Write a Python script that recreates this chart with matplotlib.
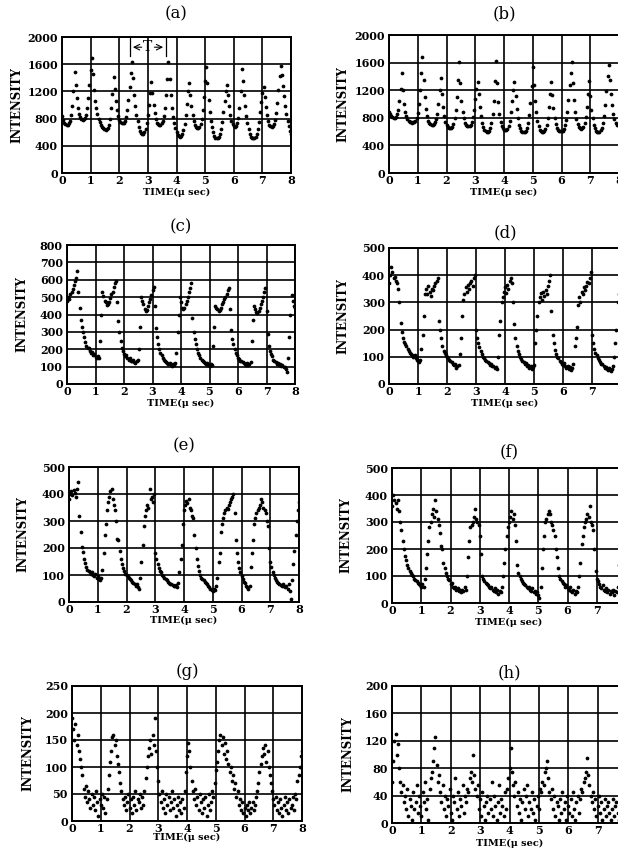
import numpy as np
import matplotlib
matplotlib.use("Agg")
import matplotlib.pyplot as plt

# digitizer time base (µs), one sample every 0.04 µs
time_us = np.linspace(0.0, 8.0, 201)
x_ticks = [0, 1, 2, 3, 4, 5, 6, 7, 8]

intensity_a = [
    840, 780, 740, 715, 705, 710, 730, 770, 850, 980, 1200, 1480, 1300, 1100, 960, 870, 820, 795, 785, 790, 810, 860, 950, 1100, 1300,
    1520, 1690, 1450, 1220, 1060, 950, 870, 800, 750, 710, 680, 655, 640, 632, 640, 665, 710, 800, 950, 1160, 1410, 1230, 1060, 930, 840,
    780, 745, 730, 728, 740, 770, 830, 930, 1080, 1260, 1470, 1630, 1400, 1150, 980, 860, 760, 680, 620, 585, 570, 575, 600, 650, 730,
    850, 1000, 1180, 1340, 1170, 1000, 880, 790, 740, 715, 705, 710, 730, 770, 840, 960, 1140, 1380, 1630, 1380, 1140, 960, 830, 730, 660,
    605, 565, 540, 535, 545, 575, 630, 720, 850, 1020, 1200, 1320, 1150, 980, 850, 760, 700, 670, 657, 660, 680, 720, 800, 930, 1120,
    1350, 1560, 1320, 1080, 900, 770, 670, 600, 550, 520, 510, 512, 530, 570, 640, 750, 900, 1060, 1200, 1300, 1150, 990, 860, 770, 715,
    688, 680, 690, 730, 810, 960, 1200, 1530, 1350, 1150, 980, 840, 730, 640, 575, 535, 515, 508, 512, 530, 570, 640, 750, 890, 1040,
    1170, 1260, 1120, 970, 850, 760, 705, 685, 680, 690, 720, 780, 880, 1030, 1220, 1430, 1580, 1440, 1280, 1130, 990, 870, 770, 690, 620,
    570]

intensity_b = [
    880, 850, 830, 810, 800, 800, 815, 850, 920, 1050, 1220, 1450, 1200, 1000, 880, 820, 780, 760, 745, 735, 730, 732, 740, 760, 800,
    870, 1000, 1200, 1450, 1680, 1350, 1100, 930, 820, 760, 725, 705, 700, 700, 710, 735, 780, 860, 1000, 1200, 1370, 1150, 950, 820, 740,
    690, 665, 655, 650, 655, 670, 710, 790, 920, 1100, 1350, 1610, 1300, 1050, 890, 790, 730, 695, 680, 675, 680, 700, 740, 810, 920,
    1070, 1220, 1320, 1150, 960, 820, 720, 660, 625, 605, 598, 600, 615, 650, 720, 850, 1050, 1330, 1630, 1300, 1030, 850, 740, 680, 645,
    628, 622, 625, 640, 680, 760, 880, 1040, 1200, 1320, 1120, 930, 790, 700, 645, 615, 600, 597, 600, 615, 650, 720, 840, 1020, 1260,
    1540, 1280, 1050, 880, 760, 680, 630, 605, 598, 600, 612, 640, 700, 800, 960, 1150, 1320, 1130, 940, 800, 710, 655, 625, 610, 605,
    608, 615, 640, 690, 770, 890, 1060, 1270, 1450, 1610, 1300, 1060, 890, 780, 710, 665, 645, 640, 645, 670, 720, 810, 950, 1140, 1340,
    1120, 920, 790, 700, 645, 615, 600, 595, 600, 618, 655, 720, 830, 990, 1190, 1400, 1560, 1350, 1150, 980, 860, 780, 730, 700, 690,
    700]

intensity_c = [
    480, 500, 490, 520, 530, 545, 570, 590, 610, 650, 530, 440, 370, 330, 300, 270, 240, 220, 205, 210, 190, 180, 185, 165, 170,
    158, 150, 160, 150, 245, 400, 530, 505, 480, 470, 455, 460, 470, 495, 520, 530, 560, 580, 590, 470, 360, 300, 245, 210, 190,
    175, 160, 165, 150, 140, 150, 135, 130, 140, 125, 120, 130, 140, 200, 330, 500, 480, 460, 430, 420, 425, 450, 470, 490, 510,
    540, 560, 450, 320, 270, 230, 200, 180, 165, 150, 140, 135, 125, 120, 115, 120, 110, 105, 115, 110, 120, 180, 300, 400, 500,
    470, 440, 430, 440, 460, 480, 500, 530, 550, 580, 380, 300, 260, 230, 200, 180, 165, 150, 140, 135, 125, 120, 115, 120, 110,
    105, 115, 110, 220, 330, 450, 440, 430, 420, 425, 440, 460, 470, 490, 500, 520, 540, 550, 430, 310, 260, 230, 200, 180, 165,
    150, 145, 135, 130, 125, 120, 115, 110, 120, 110, 115, 125, 250, 370, 450, 430, 415, 410, 420, 440, 460, 480, 500, 530, 555,
    420, 290, 220, 190, 170, 160, 140, 130, 125, 115, 120, 110, 115, 105, 110, 100, 95, 85, 70, 150, 270, 400, 510, 480, 450,
    440]

intensity_d = [
    370, 400, 430, 410, 390, 395, 380, 370, 350, 300, 225, 190, 170, 155, 148, 140, 130, 122, 115, 112, 108, 100, 105, 95, 90,
    85, 80, 90, 130, 180, 250, 330, 350, 330, 360, 340, 325, 350, 345, 360, 370, 380, 390, 230, 200, 170, 140, 120, 115, 105,
    100, 95, 90, 85, 80, 75, 70, 75, 60, 65, 70, 110, 170, 250, 310, 330, 355, 340, 365, 350, 370, 380, 360, 390, 400,
    200, 170, 150, 135, 120, 110, 100, 95, 90, 85, 80, 78, 70, 72, 65, 68, 60, 62, 55, 100, 180, 230, 300, 320, 340,
    355, 335, 365, 350, 380, 390, 370, 300, 220, 170, 140, 120, 110, 100, 92, 85, 80, 75, 78, 65, 70, 60, 65, 55, 62,
    70, 150, 200, 250, 300, 320, 335, 310, 340, 325, 345, 330, 360, 380, 400, 270, 180, 150, 125, 110, 100, 95, 85, 80, 75,
    70, 78, 65, 60, 68, 55, 62, 50, 60, 75, 140, 170, 210, 290, 320, 300, 340, 330, 355, 345, 360, 375, 370, 390, 410,
    180, 150, 130, 115, 105, 95, 90, 82, 75, 72, 65, 60, 62, 55, 50, 58, 48, 55, 65, 100, 150, 200, 300, 330, 350,
    340]

intensity_e = [
    380, 400, 410, 395, 415, 405, 390, 420, 445, 320, 260, 205, 185, 160, 145, 130, 120, 115, 110, 105, 110, 100, 95, 105, 90,
    95, 85, 80, 90, 120, 180, 250, 290, 340, 370, 390, 410, 420, 380, 360, 340, 300, 235, 230, 190, 160, 140, 125, 115, 105,
    100, 95, 90, 85, 80, 75, 70, 68, 60, 65, 55, 50, 90, 150, 210, 280, 320, 340, 360, 350, 420, 380, 390, 370, 400,
    180, 160, 140, 125, 115, 110, 100, 95, 90, 85, 80, 75, 72, 68, 65, 62, 60, 58, 62, 55, 70, 110, 160, 210, 290,
    340, 360, 375, 365, 380, 350, 340, 320, 310, 250, 200, 160, 135, 115, 100, 90, 85, 80, 75, 70, 65, 60, 55, 50, 45,
    40, 50, 45, 60, 90, 150, 180, 260, 290, 310, 330, 340, 350, 345, 360, 370, 380, 390, 400, 330, 230, 180, 150, 125, 110,
    95, 85, 75, 70, 60, 55, 50, 60, 130, 180, 230, 290, 310, 330, 340, 350, 360, 380, 370, 350, 340, 330, 300, 280, 200,
    150, 130, 110, 100, 90, 80, 75, 70, 65, 62, 60, 65, 58, 55, 60, 50, 65, 40, 10, 80, 140, 190, 250, 300, 340,
    370]

intensity_f = [
    360, 400, 380, 370, 350, 380, 340, 300, 270, 230, 200, 175, 160, 140, 130, 120, 110, 105, 100, 90, 85, 80, 75, 70, 65,
    60, 70, 60, 90, 130, 180, 230, 280, 300, 330, 350, 320, 380, 340, 310, 290, 260, 210, 200, 150, 130, 110, 100, 90, 85,
    70, 75, 60, 55, 60, 50, 55, 45, 50, 40, 50, 45, 60, 50, 100, 170, 230, 280, 290, 300, 320, 350, 310, 300, 290,
    250, 180, 100, 90, 80, 75, 70, 65, 60, 55, 60, 50, 45, 55, 40, 50, 35, 45, 40, 60, 100, 150, 200, 250, 280,
    300, 320, 340, 310, 330, 290, 230, 140, 110, 100, 90, 80, 75, 70, 65, 60, 55, 60, 50, 45, 55, 40, 45, 35, 40,
    30, 20, 60, 130, 200, 250, 300, 310, 330, 340, 330, 300, 290, 270, 250, 200, 170, 130, 100, 90, 80, 75, 70, 60, 65,
    55, 50, 60, 45, 40, 50, 35, 45, 40, 60, 100, 150, 220, 250, 280, 300, 310, 330, 320, 360, 300, 290, 270, 200, 120,
    90, 80, 70, 60, 55, 65, 50, 45, 55, 40, 50, 35, 45, 40, 50, 30, 45, 40, 60, 140, 200, 260, 310, 340, 350,
    360]

intensity_g = [
    190, 170, 150, 180, 140, 160, 130, 115, 100, 85, 60, 45, 65, 35, 55, 40, 25, 50, 30, 45, 20, 55, 35, 10, 40,
    30, 50, 25, 45, 15, 40, 60, 85, 110, 130, 155, 160, 140, 150, 120, 105, 90, 70, 55, 40, 30, 45, 20, 35, 50,
    25, 40, 15, 45, 30, 55, 20, 40, 35, 50, 25, 45, 30, 55, 80, 100, 120, 135, 150, 125, 160, 140, 190, 130, 100,
    75, 50, 35, 55, 25, 40, 15, 50, 30, 45, 20, 35, 55, 25, 40, 10, 30, 45, 20, 35, 15, 40, 25, 55, 90,
    120, 145, 130, 100, 75, 55, 40, 60, 30, 45, 20, 50, 35, 15, 40, 25, 45, 10, 30, 50, 20, 35, 55, 45, 70,
    95, 110, 130, 150, 160, 140, 155, 125, 145, 115, 130, 105, 90, 100, 75, 85, 60, 70, 45, 55, 30, 40, 20, 35, 15,
    25, 10, 30, 20, 35, 15, 25, 35, 20, 30, 45, 55, 70, 90, 105, 120, 135, 125, 140, 110, 130, 100, 85, 70, 55,
    40, 30, 45, 20, 35, 15, 40, 25, 10, 30, 45, 20, 35, 15, 40, 25, 30, 45, 20, 50, 40, 75, 85, 100, 120,
    130]

intensity_h = [
    60, 90, 120, 130, 100, 115, 80, 60, 45, 55, 30, 40, 20, 50, 10, 35, 25, 5, 45, 20, 30, 55, 15, 40, 25,
    10, 45, 30, 60, 20, 35, 5, 50, 65, 75, 90, 110, 125, 85, 60, 70, 45, 30, 55, 20, 40, 10, 35, 25, 50,
    15, 5, 40, 30, 65, 20, 45, 10, 35, 25, 55, 15, 40, 30, 50, 45, 65, 75, 60, 100, 70, 50, 40, 55, 20,
    35, 10, 45, 25, 5, 30, 40, 15, 35, 20, 60, 10, 40, 25, 5, 30, 55, 15, 35, 25, 10, 45, 20, 50, 65,
    80, 110, 75, 55, 40, 60, 25, 45, 15, 35, 5, 30, 50, 20, 40, 55, 10, 30, 20, 45, 15, 35, 5, 25, 40,
    20, 50, 45, 60, 55, 75, 80, 90, 65, 45, 35, 50, 20, 40, 10, 30, 25, 5, 35, 15, 45, 20, 30, 5, 40,
    25, 15, 35, 10, 45, 20, 5, 30, 40, 15, 35, 50, 45, 60, 65, 75, 95, 70, 55, 40, 30, 45, 20, 35, 10,
    25, 40, 15, 30, 5, 20, 35, 10, 25, 30, 15, 5, 20, 35, 10, 25, 30, 15, 5, 20, 35, 10, 25, 15, 30,
    20]

panel_labels = ["(a)", "(b)", "(c)", "(d)", "(e)", "(f)", "(g)", "(h)"]
panel_series = [intensity_a, intensity_b, intensity_c, intensity_d,
                intensity_e, intensity_f, intensity_g, intensity_h]
y_max = [2000, 2000, 800, 500, 500, 500, 250, 200]
y_step = [400, 400, 100, 100, 100, 100, 50, 40]

# layout in pixels: axes left, top, right(x=8), bottom; title y; ylabel x; xlabel offset
boxes = [(62, 37, 291, 173), (389, 35, 619, 173),
         (67, 245, 295, 384), (389, 248, 621, 384),
         (69, 467, 299, 602), (392, 468, 626, 603),
         (72, 686, 302, 821), (392, 686, 627, 823)]
title_y = [14, 14, 227, 233, 446, 452, 672, 673]
ylabel_x = [17, 343, 22, 343, 23, 346, 28, 348]
xlabel_off = [19, 19, 19, 19, 18, 19, 16, 20]

W, H = 618, 850
fig = plt.figure(figsize=(W / 100, H / 100), dpi=100)
fig.patch.set_facecolor("white")

tick_font = dict(family="DejaVu Serif", weight="bold", size=8)

for i in range(8):
    l, t, r, b = boxes[i]
    ax = fig.add_axes([l / W, 1 - b / H, (r - l) / W, (b - t) / H])
    ax.set_xlim(0, 8)
    ax.set_ylim(0, y_max[i])
    ax.set_xticks(x_ticks)
    ax.set_yticks(np.arange(0, y_max[i] + 1, y_step[i]))
    ax.set_xticklabels([str(v) for v in x_ticks], fontdict=tick_font)
    ax.set_yticklabels([str(int(v)) for v in np.arange(0, y_max[i] + 1, y_step[i])], fontdict=tick_font)
    ax.tick_params(length=0, pad=1.5, axis="x")
    ax.tick_params(length=0, pad=3, axis="y")
    ax.grid(True, color="black", lw=1.2, zorder=1)
    ax.set_axisbelow(True)
    for s in ax.spines.values():
        s.set_linewidth(1.4)
        s.set_color("black")
    ax.plot(time_us, panel_series[i], "o", ms=2.7, color="black", mec="none", zorder=3)

    hpx = b - t
    ax.text(0.5, -xlabel_off[i] / hpx, "TIME(\u03bc sec)", transform=ax.transAxes,
            ha="center", va="center", family="DejaVu Serif", weight="bold", size=7)
    fig.text((l + r) / 2 / W, 1 - title_y[i] / H, panel_labels[i],
             ha="center", va="center", family="DejaVu Serif", size=12)
    fig.text(ylabel_x[i] / W, 1 - (t + b) / 2 / H, "INTENSITY", rotation=90,
             ha="center", va="center", family="DejaVu Serif", weight="bold", size=8.5)

    if i == 0:
        period_start, period_end, period_y = 2.38, 3.63, 1850
        ax.plot([period_start, period_start], [1720, 1980], color="black", lw=0.9)
        ax.plot([period_end, period_end], [1720, 1980], color="black", lw=0.9)
        ax.annotate("", xy=(period_start, period_y), xytext=(2.88, period_y),
                    arrowprops=dict(arrowstyle="->", lw=0.8, color="black"))
        ax.annotate("", xy=(period_end, period_y), xytext=(3.13, period_y),
                    arrowprops=dict(arrowstyle="->", lw=0.8, color="black"))
        ax.text(3.0, period_y, "T", ha="center", va="center", family="DejaVu Serif", size=10)

fig.savefig("out.png", dpi=100, facecolor="white")
